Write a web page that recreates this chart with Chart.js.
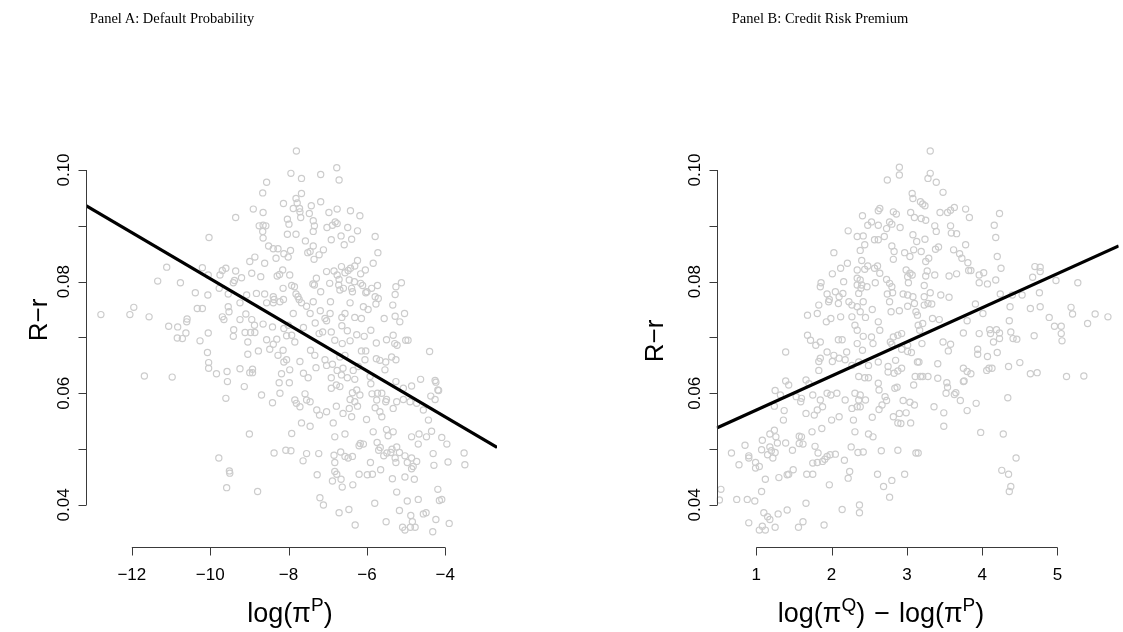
<!DOCTYPE html>
<html>
<head>
<meta charset="utf-8">
<script src="https://cdn.jsdelivr.net/npm/chart.js@4.4.1/dist/chart.umd.min.js"></script>
<style>
  html, body { margin: 0; padding: 0; background: #fff; }
  #wrap { position: relative; width: 1123px; height: 632px; overflow: hidden; }
  canvas { position: absolute; top: 0; }
  .ptitle { position: absolute; top: 10px; font: 14.5px "Liberation Serif", serif; line-height: 16px;
            text-align: center; color: #000; white-space: nowrap; }
</style>
</head>
<body>
<div id="wrap">
  <canvas id="chartA" width="561" height="632" style="left:0"></canvas>
  <canvas id="chartB" width="562" height="632" style="left:561px"></canvas>
  <div class="ptitle" style="left:22px; width:300px">Panel A: Default Probability</div>
  <div class="ptitle" style="left:670px; width:300px">Panel B: Credit Risk Premium</div>
</div>
<script>
// Panel A: log(pi^P) vs R - r
const aX = [
  -8.90,-9.35,-8.75,-10.03,-8.86,-8.99,-11.11,-10.20,-9.60,-9.69,-9.75,-9.35,-9.20,-8.94,-9.41,-9.38,-11.34,-10.76,-10.05,-10.38,
  -10.06,-9.77,-9.54,-9.07,-8.82,
  -12.79,-12.05,-11.95,-11.56,-11.06,-10.83,-10.60,-10.59,-10.84,-10.71,-10.62,-10.33,-10.20,-10.05,-10.26,-9.69,-9.65,-9.54,-9.52,-9.24,
  -9.09,-9.24,-8.94,-8.87,-9.40,-9.41,-9.11,-8.97,-8.86,-9.04,-8.77,-9.04,-10.07,-10.04,-10.04,-9.84,-9.57,-9.24,-8.99,-8.92,
  -8.92,-11.68,-10.97,-9.56,-9.13,-9.60,-9.00,
  -7.80,-6.77,-6.71,-7.94,-7.67,-7.18,-8.56,-8.66,-7.67,-7.81,-7.78,-8.13,-7.88,-7.72,-7.71,-7.69,-7.42,-7.18,-7.47,-8.65,
  -6.97,-6.76,-6.42,-6.18,-8.03,-7.99,-7.37,-7.34,-7.37,-7.02,-6.88,-6.81,-6.76,-6.49,-6.24,-8.65,-8.58,-8.66,-8.65,-8.03,
  -7.81,-6.66,-6.39,-6.91,-6.58,-5.79,-5.72,-7.57,-8.51,-8.39,-8.27,-7.95,-8.12,-8.01,-7.51,-7.45,-7.37,-7.22,-7.35,-7.11,
  -8.32,-8.61,-6.24,-6.31,-6.42,-6.48,-6.65,-6.04,-5.84,-7.03,-6.84,-6.76,-6.71,-6.56,-6.45,-6.32,-6.16,-6.16,-8.15,-7.97,
  -8.23,-8.29,-8.71,-8.14,-7.92,-7.85,-7.38,-7.34,-7.29,-7.18,-6.95,-6.72,-6.69,-6.60,-6.39,-6.37,-6.11,-6.03,-6.00,-5.88,
  -5.73,-5.79,-5.71,-5.26,-5.12,-5.28,-8.61,-8.39,-8.37,-7.81,-7.76,-7.73,-8.13,
  -8.56,-8.39,-8.22,-7.67,-7.37,-7.54,-6.93,-6.43,-6.09,-5.97,-5.77,-5.34,-7.88,-7.45,-7.19,-6.94,-6.64,-6.56,-6.31,-6.14,
  -5.56,-5.28,-5.16,-5.04,-8.65,-8.41,-8.12,-8.01,-7.62,-7.32,-7.07,-7.03,-6.64,-6.50,-6.26,-6.07,-5.90,-7.22,-7.13,-6.91,
  -6.82,-6.63,-6.43,-5.76,-5.50,-5.33,-5.29,-5.23,-5.01,-4.95,-4.40,-8.56,-8.39,-8.30,-8.05,-7.92,-7.84,-8.48,-8.27,-8.14,
  -8.12,-8.05,-7.71,-7.44,-7.33,-7.07,-6.88,-6.69,-6.56,-6.14,-6.03,-6.05,-5.76,-5.67,-5.52,-5.37,-5.26,-7.97,-8.18,-8.24,
  -7.98,-7.62,-7.50,-7.30,-7.03,-6.91,-6.76,-6.65,-6.50,-6.31,-6.61,-6.35,-6.22,-5.92,-5.90,-5.54,-5.26,-5.07,-4.86,-4.63,
  -4.26,-4.17,-4.37,-4.26,-8.69,-8.41,-8.22,-7.84,-7.80,-7.58,-7.54,-7.45,-7.71,-6.91,-6.78,-6.69,-6.43,-6.37,-6.26,-6.31,
  -6.18,-6.24,-5.87,-5.73,-5.62,-5.50,-5.75,-5.52,-5.79,-5.67,-5.33,-5.24,-5.07,-4.90,-4.73,-4.56,-4.43,-7.28,-7.21,-7.03,
  -6.78,-6.61,-6.45,-6.39,-6.01,-5.62,-7.67,-7.45,-7.92,-6.86,-6.82,-6.56,-5.84,-5.50,-5.46,-5.33,-4.86,-4.67,-4.48,-4.35,
  -4.09,-4.24,-4.19,-3.96,-3.52,-3.50,-3.93,
  -9.78,-9.51,-9.50,-9.58,-8.79,-8.37,-8.07,-7.94,-7.63,-7.54,-7.23,-7.27,-7.20,-7.11,-6.84,-6.82,-6.67,-6.56,-6.48,-6.37,
  -6.82,-6.77,-6.88,-6.66,-6.63,-6.36,-6.20,-5.99,-5.86,-5.65,-5.91,-6.71,-6.46,-6.30,-5.80,-6.20,-6.17,-6.09,-5.74,-5.66,
  -5.70,-5.57,-5.49,-5.39,-5.36,-5.24,-5.17,-5.28,-5.26,-5.03,-4.86,-4.73,-4.97,-4.82,-4.86,-4.69,-4.31,-4.29,-5.35,-5.03,
  -4.79,-5.24,-4.97,-4.69,-5.17,-4.88,-4.84,-5.09,-5.03,-4.89,-4.77,-5.51,-4.56,-4.49,-4.32,-4.24,-4.19,-4.15,-4.09,-3.90
];
const aY = [
  0.0930,0.0915,0.0900,0.0879,0.0844,0.0836,0.0826,0.0825,0.0824,0.0820,0.0812,0.0819,0.0807,0.0815,0.0798,0.0802,0.0801,0.0798,0.0812,0.0780,
  0.0776,0.0788,0.0778,0.0776,0.0779,
  0.0741,0.0741,0.0754,0.0737,0.0720,0.0719,0.0728,0.0733,0.0699,0.0698,0.0708,0.0752,0.0752,0.0708,0.0694,0.0737,0.0732,0.0755,0.0746,0.0762,
  0.0742,0.0732,0.0732,0.0722,0.0714,0.0702,0.0709,0.0709,0.0709,0.0692,0.0676,0.0670,0.0673,0.0655,0.0645,0.0635,0.0639,0.0644,0.0637,0.0637,
  0.0643,0.0631,0.0629,0.0621,0.0612,0.0591,0.0527,
  0.1034,0.1004,0.0982,0.0994,0.0985,0.0992,0.0978,0.0959,0.0958,0.0949,0.0941,0.0940,0.0931,0.0931,0.0925,0.0915,0.0936,0.0943,0.0922,0.0924,
  0.0924,0.0930,0.0927,0.0918,0.0912,0.0903,0.0909,0.0900,0.0890,0.0897,0.0901,0.0907,0.0904,0.0897,0.0891,0.0901,0.0900,0.0890,0.0878,0.0885,
  0.0885,0.0882,0.0876,0.0875,0.0866,0.0881,0.0852,0.0873,0.0864,0.0859,0.0859,0.0856,0.0850,0.0844,0.0852,0.0854,0.0864,0.0848,0.0840,0.0857,
  0.0842,0.0833,0.0838,0.0828,0.0824,0.0820,0.0827,0.0821,0.0833,0.0818,0.0819,0.0812,0.0804,0.0816,0.0803,0.0800,0.0814,0.0797,0.0821,0.0812,
  0.0813,0.0810,0.0809,0.0788,0.0793,0.0791,0.0796,0.0794,0.0806,0.0782,0.0797,0.0794,0.0785,0.0788,0.0788,0.0782,0.0793,0.0780,0.0782,0.0788,
  0.0793,0.0773,0.0770,0.0791,0.0798,0.0777,0.0778,0.0773,0.0768,0.0778,0.0773,0.0768,0.0768,
  0.0762,0.0762,0.0764,0.0762,0.0764,0.0756,0.0764,0.0762,0.0755,0.0750,0.0760,0.0758,0.0743,0.0743,0.0748,0.0743,0.0736,0.0743,0.0736,0.0734,
  0.0734,0.0738,0.0728,0.0743,0.0724,0.0719,0.0716,0.0722,0.0718,0.0726,0.0734,0.0730,0.0721,0.0712,0.0705,0.0702,0.0713,0.0707,0.0710,0.0710,
  0.0695,0.0689,0.0694,0.0690,0.0696,0.0704,0.0689,0.0686,0.0695,0.0695,0.0675,0.0696,0.0688,0.0697,0.0703,0.0704,0.0692,0.0679,0.0668,0.0677,
  0.0656,0.0660,0.0657,0.0677,0.0668,0.0660,0.0652,0.0665,0.0668,0.0676,0.0676,0.0660,0.0662,0.0659,0.0656,0.0665,0.0660,0.0642,0.0635,0.0619,
  0.0619,0.0636,0.0628,0.0646,0.0650,0.0628,0.0641,0.0633,0.0628,0.0625,0.0645,0.0641,0.0648,0.0630,0.0617,0.0642,0.0621,0.0609,0.0613,0.0625,
  0.0623,0.0605,0.0595,0.0589,0.0597,0.0583,0.0600,0.0588,0.0582,0.0599,0.0588,0.0585,0.0576,0.0609,0.0615,0.0612,0.0589,0.0601,0.0606,0.0585,
  0.0597,0.0577,0.0599,0.0600,0.0600,0.0589,0.0588,0.0585,0.0574,0.0567,0.0573,0.0585,0.0589,0.0585,0.0582,0.0570,0.0552,0.0570,0.0561,0.0567,
  0.0577,0.0564,0.0573,0.0558,0.0553,0.0558,0.0547,0.0541,0.0528,0.0547,0.0522,0.0527,0.0531,0.0535,0.0524,0.0531,0.0522,0.0527,0.0522,0.0532,
  0.0521,0.0620,0.0606,0.0509,0.0493,0.0472,0.0477,
  0.0484,0.0461,0.0457,0.0431,0.0424,0.0493,0.0498,0.0497,0.0479,0.0492,0.0492,0.0454,0.0413,0.0400,0.0489,0.0476,0.0495,0.0487,0.0484,0.0487,
  0.0460,0.0455,0.0443,0.0446,0.0432,0.0436,0.0455,0.0454,0.0455,0.0463,0.0476,0.0386,0.0392,0.0364,0.0403,0.0506,0.0510,0.0509,0.0512,0.0503,
  0.0498,0.0488,0.0493,0.0494,0.0500,0.0504,0.0494,0.0484,0.0476,0.0488,0.0484,0.0478,0.0476,0.0469,0.0465,0.0509,0.0492,0.0471,0.0447,0.0450,
  0.0446,0.0423,0.0407,0.0410,0.0390,0.0381,0.0370,0.0360,0.0355,0.0360,0.0360,0.0370,0.0384,0.0386,0.0352,0.0374,0.0428,0.0408,0.0410,0.0367
];
// fitted line, read at the left and right edges of the plot
const aFitX = [-13.17, -2.68];
const aFitY = [0.0936, 0.0503];

// Panel B: log(pi^Q) - log(pi^P) vs R - r
const bX = [
  2.22,2.34,2.03,2.12,2.21,2.01,2.34,2.16,1.86,1.85,2.34,2.34,2.39,2.36,1.94,1.97,2.05,2.10,2.15,
  1.83,1.96,2.09,2.23,2.27,2.34,1.68,1.81,1.93,1.99,2.12,2.27,2.31,2.34,1.68,1.72,1.79,1.85,2.09,2.14,
  2.34,1.39,1.94,2.03,2.01,2.10,2.20,1.85,1.83,2.18,1.83,2.27,1.39,1.43,1.66,1.70,1.25,1.32,1.53,1.60,
  1.59,1.75,1.85,1.94,1.99,2.07,2.18,2.31,2.27,2.36,2.34,1.24,1.37,1.36,1.66,1.77,1.81,1.88,2.00,2.10,
  2.29,2.31,1.87,1.74,1.60,1.57,1.26,1.18,1.24,
  3.31,2.90,2.90,2.74,3.31,3.28,3.39,3.48,3.07,3.08,3.18,3.21,3.24,2.41,2.64,2.62,2.82,2.86,3.05,3.10,
  3.19,3.25,3.44,3.54,3.58,3.63,3.78,3.83,4.23,2.53,2.48,2.62,2.77,2.80,2.91,2.73,3.37,3.39,3.58,3.59,
  3.66,4.16,2.57,2.62,2.70,2.42,2.44,3.08,3.13,3.24,2.80,2.83,2.97,3.04,3.09,3.19,3.29,3.38,3.42,3.78,
  4.18,3.62,3.70,3.73,3.81,3.85,3.82,3.25,3.27,4.20,4.25,2.38,2.40,2.44,2.48,2.57,2.61,2.64,2.82,2.99,
  3.04,3.01,3.07,3.02,3.25,3.37,3.56,3.66,3.96,4.02,3.96,4.07,4.18,4.70,4.77,4.67,4.77,4.98,5.27,2.38,
  2.40,2.47,2.58,2.73,2.77,2.80,2.81,2.74,2.95,3.01,3.08,3.23,3.31,3.45,3.56,3.23,4.24,4.40,4.53,4.76,
  2.42,2.54,2.45,2.62,2.79,2.77,2.90,3.01,3.10,3.12,3.14,3.23,3.28,3.33,3.43,3.34,3.15,3.21,3.17,2.93,
  2.88,2.82,2.64,2.38,2.53,2.42,2.55,2.41,2.78,2.80,2.93,3.01,3.06,3.01,3.20,3.48,3.58,3.55,3.75,3.80,
  3.91,4.01,3.96,4.10,4.11,4.19,4.23,4.15,4.23,4.36,4.38,4.41,4.46,4.20,4.07,3.94,3.94,4.37,4.64,4.77,
  4.69,4.89,4.96,5.05,5.05,5.06,5.18,5.20,5.40,5.50,5.67,2.36,2.49,2.62,2.75,2.85,2.93,2.88,2.83,2.75,
  3.14,3.16,3.41,3.75,3.80,3.85,4.06,4.09,4.13,4.35,4.50,4.64,4.73,5.12,5.35,2.36,2.44,2.49,2.62,2.63,
  2.84,2.87,3.09,3.11,3.18,3.21,3.28,3.41,3.53,3.54,3.52,3.63,3.65,3.75,3.76,3.71,3.80,3.92,4.34,2.38,
  2.45,2.38,2.63,2.71,2.73,2.67,2.95,3.04,3.10,2.99,2.90,2.82,2.88,2.92,3.05,2.54,3.36,3.49,3.49,2.49,
  2.55,3.98,4.28,
  0.67,0.77,0.85,0.90,0.90,0.99,0.99,1.04,1.07,1.08,1.12,1.07,1.18,1.20,1.15,1.22,1.25,1.28,1.39,1.48,
  1.57,1.62,1.78,1.82,1.75,1.81,1.88,1.91,1.94,1.98,2.05,2.17,2.26,2.35,2.42,2.66,2.88,3.12,3.15,0.53,
  0.51,0.74,0.88,0.98,1.30,1.41,1.43,1.49,1.67,1.75,2.24,2.22,1.97,1.66,2.61,2.69,2.80,2.77,2.97,1.10,
  1.15,1.18,1.29,1.41,0.90,1.04,1.08,1.12,1.25,1.56,1.62,1.90,2.14,2.37,2.37,4.26,4.35,4.38,4.36,4.45
];
const bY = [
  0.0891,0.0881,0.0852,0.0824,0.0833,0.0814,0.0821,0.0800,0.0798,0.0791,0.0806,0.0794,0.0788,0.0779,0.0778,0.0768,0.0782,0.0773,0.0779,
  0.0758,0.0764,0.0761,0.0764,0.0758,0.0755,0.0740,0.0743,0.0728,0.0734,0.0737,0.0737,0.0722,0.0713,0.0704,0.0695,0.0686,0.0692,0.0696,0.0696,
  0.0689,0.0674,0.0674,0.0668,0.0657,0.0663,0.0674,0.0663,0.0657,0.0660,0.0641,0.0650,0.0622,0.0615,0.0624,0.0617,0.0605,0.0597,0.0594,0.0591,
  0.0585,0.0597,0.0588,0.0600,0.0597,0.0600,0.0588,0.0600,0.0573,0.0588,0.0576,0.0577,0.0569,0.0552,0.0564,0.0561,0.0570,0.0576,0.0552,0.0558,
  0.0552,0.0531,0.0537,0.0531,0.0522,0.0523,0.0522,0.0527,0.0534,
  0.1034,0.1005,0.0991,0.0982,0.0994,0.0985,0.0978,0.0960,0.0958,0.0949,0.0943,0.0939,0.0936,0.0918,0.0931,0.0927,0.0925,0.0921,0.0924,0.0915,
  0.0913,0.0910,0.0924,0.0924,0.0928,0.0933,0.0930,0.0915,0.0922,0.0907,0.0901,0.0901,0.0907,0.0903,0.0897,0.0895,0.0900,0.0890,0.0900,0.0887,
  0.0886,0.0901,0.0875,0.0875,0.0881,0.0882,0.0866,0.0884,0.0872,0.0876,0.0864,0.0854,0.0852,0.0845,0.0857,0.0854,0.0842,0.0858,0.0862,0.0866,
  0.0879,0.0857,0.0850,0.0842,0.0834,0.0820,0.0820,0.0836,0.0819,0.0845,0.0824,0.0856,0.0838,0.0822,0.0828,0.0824,0.0828,0.0815,0.0840,0.0821,
  0.0815,0.0809,0.0812,0.0798,0.0810,0.0812,0.0810,0.0814,0.0812,0.0816,0.0798,0.0796,0.0803,0.0827,0.0826,0.0808,0.0818,0.0802,0.0798,0.0803,
  0.0794,0.0791,0.0798,0.0804,0.0797,0.0791,0.0780,0.0778,0.0778,0.0776,0.0773,0.0793,0.0780,0.0776,0.0772,0.0773,0.0778,0.0776,0.0776,0.0780,
  0.0764,0.0750,0.0736,0.0728,0.0746,0.0764,0.0748,0.0756,0.0761,0.0746,0.0740,0.0758,0.0761,0.0760,0.0732,0.0734,0.0722,0.0725,0.0713,0.0707,
  0.0704,0.0701,0.0713,0.0746,0.0701,0.0702,0.0689,0.0677,0.0692,0.0688,0.0679,0.0675,0.0673,0.0686,0.0689,0.0692,0.0688,0.0676,0.0708,0.0730,
  0.0760,0.0743,0.0707,0.0714,0.0707,0.0714,0.0708,0.0692,0.0698,0.0730,0.0710,0.0698,0.0697,0.0673,0.0666,0.0679,0.0670,0.0755,0.0752,0.0755,
  0.0703,0.0736,0.0720,0.0720,0.0707,0.0694,0.0754,0.0742,0.0725,0.0742,0.0737,0.0656,0.0650,0.0656,0.0648,0.0659,0.0645,0.0640,0.0636,0.0638,
  0.0656,0.0656,0.0653,0.0645,0.0639,0.0635,0.0641,0.0645,0.0645,0.0648,0.0655,0.0635,0.0637,0.0630,0.0631,0.0630,0.0628,0.0628,0.0618,0.0606,
  0.0609,0.0611,0.0615,0.0630,0.0630,0.0630,0.0630,0.0627,0.0619,0.0611,0.0600,0.0598,0.0601,0.0621,0.0622,0.0587,0.0569,0.0582,0.0592,0.0597,
  0.0588,0.0576,0.0571,0.0594,0.0587,0.0579,0.0587,0.0584,0.0579,0.0565,0.0564,0.0558,0.0547,0.0546,0.0547,0.0557,0.0576,0.0565,0.0541,0.0527,
  0.0522,0.0530,0.0527,
  0.0493,0.0472,0.0507,0.0488,0.0484,0.0476,0.0466,0.0469,0.0499,0.0516,0.0446,0.0424,0.0504,0.0497,0.0490,0.0484,0.0494,0.0511,0.0511,0.0498,
  0.0510,0.0509,0.0505,0.0493,0.0475,0.0476,0.0478,0.0482,0.0487,0.0490,0.0491,0.0480,0.0504,0.0494,0.0495,0.0497,0.0498,0.0493,0.0493,0.0428,
  0.0409,0.0410,0.0410,0.0407,0.0449,0.0454,0.0455,0.0463,0.0455,0.0455,0.0460,0.0448,0.0436,0.0403,0.0455,0.0433,0.0444,0.0414,0.0455,0.0386,
  0.0379,0.0374,0.0384,0.0391,0.0368,0.0355,0.0362,0.0355,0.0360,0.0360,0.0370,0.0364,0.0392,0.0400,0.0386,0.0462,0.0455,0.0433,0.0424,0.0484
];
const bFitX = [0.474, 5.813];
const bFitY = [0.0538, 0.0864];

// axis ticks
const yTicks = [0.04, 0.05, 0.06, 0.07, 0.08, 0.09, 0.10];
const yTickLabels = ['0.04', '', '0.06', '', '0.08', '', '0.10'];
const aXTicks = [-12, -10, -8, -6, -4];
const aXTickLabels = ['\u221212', '\u221210', '\u22128', '\u22126', '\u22124'];
const bXTicks = [1, 2, 3, 4, 5];
const bXTickLabels = ['1', '2', '3', '4', '5'];

const pts = (xs, ys) => xs.map((v, i) => ({ x: v, y: ys[i] }));

// R-style axes: line only between first and last tick, ticks outward
const rAxes = {
  id: 'rAxes',
  afterDraw(chart, args, o) {
    const { ctx, chartArea: ca } = chart;
    const sx = chart.scales.x, sy = chart.scales.y;
    ctx.save();
    ctx.strokeStyle = '#3a3a3a';
    ctx.lineWidth = 1;
    ctx.fillStyle = '#000';
    ctx.font = '17px "Liberation Sans", Arial, sans-serif';

    const by = Math.round(ca.bottom) + 0.5;
    ctx.beginPath();
    ctx.moveTo(sx.getPixelForValue(o.xTicks[0]), by);
    ctx.lineTo(sx.getPixelForValue(o.xTicks[o.xTicks.length - 1]), by);
    o.xTicks.forEach(v => {
      const px = Math.round(sx.getPixelForValue(v)) + 0.5;
      ctx.moveTo(px, by); ctx.lineTo(px, by + 8);
    });
    const lx = Math.round(ca.left) + 0.5;
    ctx.moveTo(lx, sy.getPixelForValue(yTicks[0]));
    ctx.lineTo(lx, sy.getPixelForValue(yTicks[yTicks.length - 1]));
    yTicks.forEach(v => {
      const py = Math.round(sy.getPixelForValue(v)) + 0.5;
      ctx.moveTo(lx, py); ctx.lineTo(lx - 8, py);
    });
    ctx.stroke();

    ctx.textAlign = 'center';
    ctx.textBaseline = 'alphabetic';
    o.xTicks.forEach((v, i) => ctx.fillText(o.xLabels[i], sx.getPixelForValue(v), by + 32));
    yTicks.forEach((v, i) => {
      if (!yTickLabels[i]) return;
      ctx.save();
      ctx.translate(lx - 18, sy.getPixelForValue(v));
      ctx.rotate(-Math.PI / 2);
      ctx.fillText(yTickLabels[i], 0, 0);
      ctx.restore();
    });

    // y title
    ctx.font = '26px "Liberation Sans", Arial, sans-serif';
    ctx.save();
    ctx.translate(lx - o.yTitleOff, o.yTitleY);
    ctx.rotate(-Math.PI / 2);
    ctx.fillText('R\u2212r', 0, 0);
    ctx.restore();

    // x title with superscripts; gap entries add horizontal space
    const big = '27px "Liberation Sans", Arial, sans-serif';
    const small = '19px "Liberation Sans", Arial, sans-serif';
    const width = p => {
      if (p.gap) return p.gap;
      ctx.font = p.sup ? small : big;
      return ctx.measureText(p.t).width;
    };
    let w = 0;
    o.xTitle.forEach(p => { w += width(p); });
    let cx = o.xTitleX - w / 2;
    const base = by + 74;
    ctx.textAlign = 'left';
    o.xTitle.forEach(p => {
      const pw = width(p);
      if (!p.gap) ctx.fillText(p.t, cx, p.sup ? base - 11 : base);
      cx += pw;
    });
    ctx.restore();
  }
};

function makeChart(id, xs, ys, fx, fy, xmin, xmax, pad, axisOpts) {
  return new Chart(document.getElementById(id), {
    type: 'scatter',
    data: {
      datasets: [
        {
          data: pts(fx, fy),
          showLine: true,
          borderColor: '#000',
          borderWidth: 3.2,
          pointRadius: 0,
          fill: false
        },
        {
          data: pts(xs, ys),
          pointRadius: 3.1,
          pointBorderWidth: 1.2,
          pointBorderColor: '#cccccc',
          pointBackgroundColor: 'rgba(0,0,0,0)',
          pointHoverRadius: 3.1
        }
      ]
    },
    options: {
      responsive: false,
      animation: false,
      devicePixelRatio: 1,
      layout: { padding: pad },
      plugins: { legend: { display: false }, tooltip: { enabled: false }, rAxes: axisOpts },
      scales: {
        x: { type: 'linear', min: xmin, max: xmax, display: false },
        y: { type: 'linear', min: 0.03247, max: 0.10627, display: false }
      }
    },
    plugins: [rAxes]
  });
}

makeChart('chartA', aX, aY, aFitX, aFitY, -13.17, -2.68,
  { left: 86, right: 64, top: 135, bottom: 85 },
  { xTicks: aXTicks, xLabels: aXTickLabels, xTitleX: 290, yTitleOff: 40, yTitleY: 320,
    xTitle: [{ t: 'log(\u03c0' }, { t: 'P', sup: true }, { t: ')' }] });

makeChart('chartB', bX, bY, bFitX, bFitY, 0.474, 5.813,
  { left: 155.7, right: 0, top: 135, bottom: 85 },
  { xTicks: bXTicks, xLabels: bXTickLabels, xTitleX: 320, yTitleOff: 55, yTitleY: 341,
    xTitle: [{ t: 'log(\u03c0' }, { t: 'Q', sup: true }, { t: ')' }, { gap: 9 }, { t: '\u2212' }, { gap: 9 },
             { t: 'log(\u03c0' }, { t: 'P', sup: true }, { t: ')' }] });
</script>
</body>
</html>
